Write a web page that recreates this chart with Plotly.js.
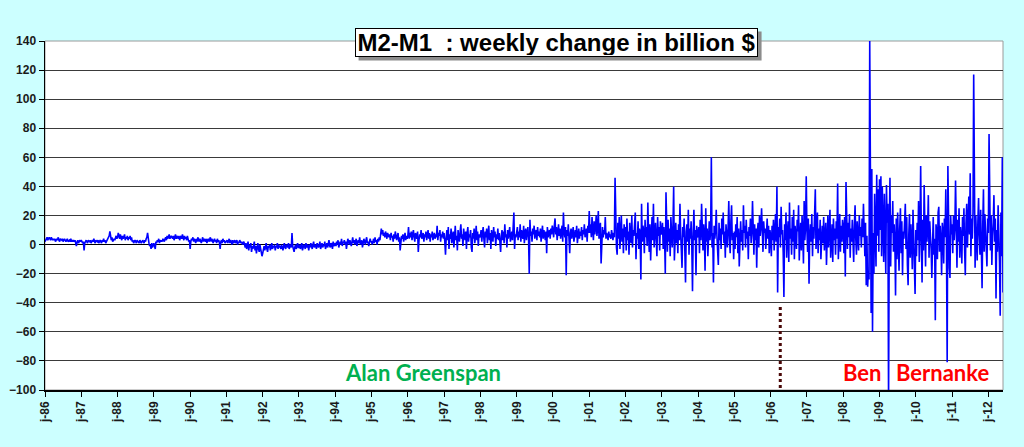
<!DOCTYPE html>
<html>
<head>
<meta charset="utf-8">
<script src="https://cdn.plot.ly/plotly-3.0.1.min.js"></script>
<style>
html,body{margin:0;padding:0;background:#CCFFFF;}
#chart{width:1024px;height:447px;}
</style>
</head>
<body>
<div id="chart"></div>
<script>
// Weekly change of M2-M1 (billion $), one array per year, 52 weeks each (2012 partial)
const y1986 = [2,3,4,5,3,4,5,4,3,5,4,3,4, 3,4,2,3,4,3,5,3,2,4,3,3,4, 2,3,4,3,2,3,4,2,3,3,2,4,2, 3,2,3,2,3,1,-1,2,3,1,2,3,2];
const y1987 = [3,2,1,2,-4,1,2,3,2,1,3,2,2, 3,1,2,3,2,4,2,1,3,2,2,3,1, 2,3,2,1,3,2,4,2,3,1,2,3,4,5,6,9, 4,3,5,2,3,4,3,5,6,4];
const y1988 = [5,8,6,4,7,5,3,6,4,5,7,3,5, 4,6,3,5,4,6,3,5,2,3,1,2,3, 2,1,3,2,2,1,3,2,1,2,3,2,1,3,2,4, 5,8,3,1,-1,0,-3,1,-2,0];
const y1989 = [1,-1,-3,2,1,3,2,4,1,3,2,3,2, 4,3,2,4,5,3,6,4,5,7,4,5,6, 5,4,6,3,5,7,4,6,5,4,6,3, 5,6,4,7,5,3,6,4,5,3,6,4,2,3];
const y1990 = [-3,2,4,3,5,2,4,3,1,4,2,5,3, 2,4,3,1,3,5,2,4,3,2,4,1,3, 4,2,3,5,2,4,3,1,3,4,2,3,1,4,2,3,1, -3,2,3,1,4,2,3,1,2];
const y1991 = [2,3,1,2,4,1,3,2,0,3,1,2,3, 1,2,3,0,2,1,3,2,1,2,0,1,2, 0,-2,1,-3,-1,2,-4,0,-2,1,-5,-1,-3,0, 2,-4,-1,-6,-2,1,-3,-5,0,-2,-4,-8];
const y1992 = [-6,-3,-1,-4,-2,1,-3,-5,-1,-2,0,-4,-2, 1,-3,-1,-2,0,-4,-1,-2,1,-3,0,-2,-1, -3,0,-2,-4,-1,1,-2,-3,0,-1,-2,1,-3,-1,0,-2,8, -1,-3,-5,-2,0,-3,-1,1,-2];
const y1993 = [-2,0,-3,-1,1,-4,-2,0,-1,-3,1,-2,0, -1,-4,0,-2,1,-1,-3,0,2,-2,-1,0,-3, 1,-1,-2,0,2,-3,-1,1,-2,0,-1,2,-3,0, 1,-2,0,3,-1,-2,1,0,-3,2,-1,0];
const y1994 = [1,-1,2,0,3,-2,1,2,0,4,-1,2,1, 3,0,2,-3,1,4,2,0,3,1,-1,2,5, 1,3,0,2,4,-1,2,3,1,5,0,2,3,-2, 1,4,2,0,3,5,1,2,-1,3,4,2];
const y1995 = [2,0,3,4,1,5,2,3,0,4,2,5,3, 9,11,7,10,6,8,5,9,7,4,8,6,5, 7,3,8,5,6,2,7,4,9,5,3,6,8,2, 5,-4,3,6,4,7,2,5,8,3,6,4];
const y1996 = [6,12,4,8,5,9,3,7,10,5,2,8,6, 4,9,-5,3,7,5,10,4,6,8,2,7,5, 9,3,6,10,4,8,2,7,5,9,3,6,8,4, 7,5,13,3,8,6,10,2,7,5,9,4];
const y1997 = [8,2,-7,5,10,3,12,-3,7,4,11,1,6, 9,-2,8,13,3,6,-4,10,5,2,9,14,4, 7,-1,11,6,3,9,-3,8,12,2,7,5,10,-2, -5,8,4,11,1,6,13,3,9,-1,7,5];
const y1998 = [6,10,2,8,12,4,-2,9,5,11,1,7,13, 3,8,-3,10,6,2,12,5,9,-1,7,4,11, 3,8,0,-5,6,10,3,9,1,14,5,7,-2,10, 4,8,12,2,6,9,3,11,22,-3,7,5];
const y1999 = [8,12,3,9,5,14,2,10,6,4,13,1,8, 11,3,7,12,5,-20,17,6,9,2,11,7,13, 4,8,10,3,12,6,9,5,11,2,8,13,4,10, 7,3,9,-6,12,5,8,10,4,11,7,13];
const y2000 = [10,5,13,18,7,12,3,9,14,6,11,4,8, 13,2,22,9,5,12,-21,10,6,14,3,-6,8, 11,4,9,12,2,7,10,5,13,1,8,11,4,9, 6,12,3,10,7,14,5,9,11,2,13,8];
const y2001 = [23,8,14,5,19,10,3,16,7,12,20,6,11, 23,4,9,15,-13,8,12,5,10,7,19,4,8, 6,3,9,5,7,4,10,6,3,8,5,46,12,-2, -7,15,4,19,-3,8,20,2,11,-6,14,5];
const y2002 = [12,-4,18,3,9,-7,15,5,1,20,-2,10,6, 14,22,-10,8,4,16,-3,11,7,-24,28,2,13, 9,-6,17,5,12,-1,29,8,-5,14,-11,6,19,3, 28,-2,10,15,4,-8,19,6,12,-4,16,7];
const y2003 = [8,15,-3,12,4,-20,36,9,-5,17,2,11,-8, 19,6,-2,13,40,-11,7,15,1,10,-6,14,3, 28,8,-4,-16,12,5,18,-3,-26,9,14,2,24,-7, 11,4,16,-1,-32,8,24,3,10,-21,13,6];
const y2004 = [5,12,-6,17,3,28,9,-4,14,6,-18,25,2,11, -8,7,16,3,9,60,-2,8,-26,13,4,10, 24,6,-5,-14,15,3,11,-3,18,7,22,1,9,-9, 14,5,-2,12,30,4,-6,16,27,3,8,-10];
const y2005 = [9,-3,14,5,19,-6,11,-15,7,16,2,10,-4,27, 8,13,-2,17,4,9,-10,12,6,18,1,8, 30,5,-7,14,3,11,-16,9,15,-2,20,6,12,25, 3,-5,16,8,11,-3,7,18,4,13,-6,10];
const y2006 = [6,-8,13,3,17,-4,9,21,2,40,-33,12,5,18, -2,26,7,10,-6,-36,14,3,22,-9,8,16, -12,29,4,11,-7,19,2,24,-10,13,6,-3,17,9, 27,-11,5,15,-4,20,8,-13,30,3,12,47];
const y2007 = [10,-5,18,-27,6,14,2,21,-8,12,4,16,38,-3, 9,22,-6,11,3,17,-10,7,13,1,19,-4, 8,15,-14,5,20,-2,10,24,-9,6,14,-12,18,3, 11,-7,16,4,42,-10,9,21,-5,13,2,17];
const y2008 = [12,-6,19,-22,43,8,-3,15,5,21,-9,11,2,17, 7,-12,14,27,4,-7,16,9,-4,20,6,12, -2,18,5,28,10,-8,15,-28,6,-29,-18,-24,140,-38,-47,52,-60,8,-20,35,12,-15,48,6,38,-5];
const y2009 = [45,10,47,-8,40,22,-12,35,5,-20,41,15,28,-110,12,46,-15,20,8,30,-5,14,3,-35, 18,-10,22,2,-18,11,25,-6,16,-21,9,4,13,28,-3,19,-14,-28, 7,21,-9,14,2,-17,24,6,-4,-34];
const y2010 = [10,-8,15,3,30,-12,8,54,5,-26,17,-4,41,9,-15,20,2,12,34,-9,16,6,-3,-23,11,19,-7,4,-52,14,8,-10,22,26,-5,13,3,-21,15,9,-13,18,5,38,-2,-81,54,10,-16,-23,20,7];
const y2011 = [14,-6,20,3,11,44,8,-16,17,2,25,-9,12,5,-13,19,6,25,-4,-21,15,28,-2,10,33,7,49,-8,18,4,22,117,12,-16,20,3,-11,16,32,6,-7,24,2,-30,14,38,-5,21,9,-12,-15,18];
const y2012 = [8,76,12,-4,20,-14,6,15,34,2,18,-37,10,-5,27,9,-12,-49,22,-8,60,-33];

const years = [1986,1987,1988,1989,1990,1991,1992,1993,1994,1995,1996,1997,1998,1999,2000,2001,2002,2003,2004,2005,2006,2007,2008,2009,2010,2011,2012];
const yearly = [y1986,y1987,y1988,y1989,y1990,y1991,y1992,y1993,y1994,y1995,y1996,y1997,y1998,y1999,y2000,y2001,y2002,y2003,y2004,y2005,y2006,y2007,y2008,y2009,y2010,y2011,y2012];
const tickLabels = ['j-86','j-87','j-88','j-89','j-90','j-91','j-92','j-93','j-94','j-95','j-96','j-97','j-98','j-99','j-00','j-01','j-02','j-03','j-04','j-05','j-06','j-07','j-08','j-09','j-10','j-11','j-12'];
const bernankeStart = 2006.265;
const markerTop = -43;

// week dates as decimal years
const xs = [], ys = [];
yearly.forEach((arr, i) => {
  arr.forEach((v, w) => { xs.push(years[i] + w / 52); ys.push(v); });
});

const tickFont = {family: 'Liberation Sans, Arial, sans-serif', size: 12, color: '#1a1a1a', weight: 'bold'};
const labelFont = {family: 'Lato, sans-serif', size: 22, weight: 'bold'};
const titleText = 'M2-M1\u00a0\u00a0: weekly change in billion $';

const trace = {
  x: xs, y: ys, type: 'scatter', mode: 'lines',
  line: {color: '#0000FF', width: 1.6},
  hoverinfo: 'x+y'
};

const titleX = 0.534, titleY = 0.9957;

const layout = {
  width: 1024, height: 447,
  margin: {l: 45, r: 21, t: 41, b: 57},
  paper_bgcolor: '#CCFFFF',
  plot_bgcolor: '#FFFFFF',
  showlegend: false,
  xaxis: {
    range: [1986, xs[xs.length - 1]],
    tickmode: 'array', tickvals: years, ticktext: tickLabels,
    tickangle: -90, tickfont: tickFont,
    ticks: 'outside', ticklen: 5, tickcolor: '#000', tickwidth: 1,
    showgrid: false, zeroline: false,
    showline: true, linecolor: '#000', linewidth: 1.5
  },
  yaxis: {
    range: [-100, 140], dtick: 20, tick0: 0,
    tickfont: tickFont,
    ticks: 'outside', ticklen: 5, tickcolor: '#000', tickwidth: 1,
    showgrid: true, gridcolor: '#3a3a3a', gridwidth: 1,
    zeroline: true, zerolinecolor: '#000', zerolinewidth: 1,
    showline: true, linecolor: '#000', linewidth: 1.5
  },
  shapes: [
    {type: 'rect', xref: 'paper', yref: 'paper', x0: 0, x1: 1, y0: 0, y1: 1,
     line: {color: '#9a9a9a', width: 1}, layer: 'below'},
    {type: 'line', xref: 'x', yref: 'y', x0: bernankeStart, x1: bernankeStart, y0: markerTop, y1: -100,
     line: {color: '#4a0808', width: 3, dash: 'dot'}, layer: 'above'},
    // drop shadow of the title box
    {type: 'rect', xref: 'paper', yref: 'paper', xsizemode: 'pixel', ysizemode: 'pixel',
     xanchor: titleX, yanchor: titleY, x0: -198, x1: 205, y0: -18, y1: 11,
     fillcolor: '#8c8c8c', line: {width: 0}, layer: 'above'}
  ],
  annotations: [
    {xref: 'paper', yref: 'paper', x: titleX, y: titleY, xanchor: 'center', yanchor: 'middle',
     showarrow: false, text: titleText, width: 399, height: 25,
     font: {family: 'Liberation Sans, Arial, sans-serif', size: 24, weight: 'bold', color: '#000'},
     bgcolor: '#FFFFFF', bordercolor: '#000', borderwidth: 1, borderpad: 1},
    {xref: 'paper', yref: 'paper', x: 0.395, y: 0.05, xanchor: 'center', yanchor: 'middle',
     showarrow: false, text: 'Alan Greenspan', font: Object.assign({color: '#00B050'}, labelFont)},
    {xref: 'paper', yref: 'paper', x: 0.8533, y: 0.05, xanchor: 'center', yanchor: 'middle',
     showarrow: false, text: 'Ben', font: Object.assign({color: '#FF0000'}, labelFont)},
    {xref: 'paper', yref: 'paper', x: 0.9369, y: 0.05, xanchor: 'center', yanchor: 'middle',
     showarrow: false, text: 'Bernanke', font: Object.assign({color: '#FF0000'}, labelFont)}
  ]
};

Plotly.newPlot('chart', [trace], layout, {displayModeBar: false, staticPlot: true});
</script>
</body>
</html>
